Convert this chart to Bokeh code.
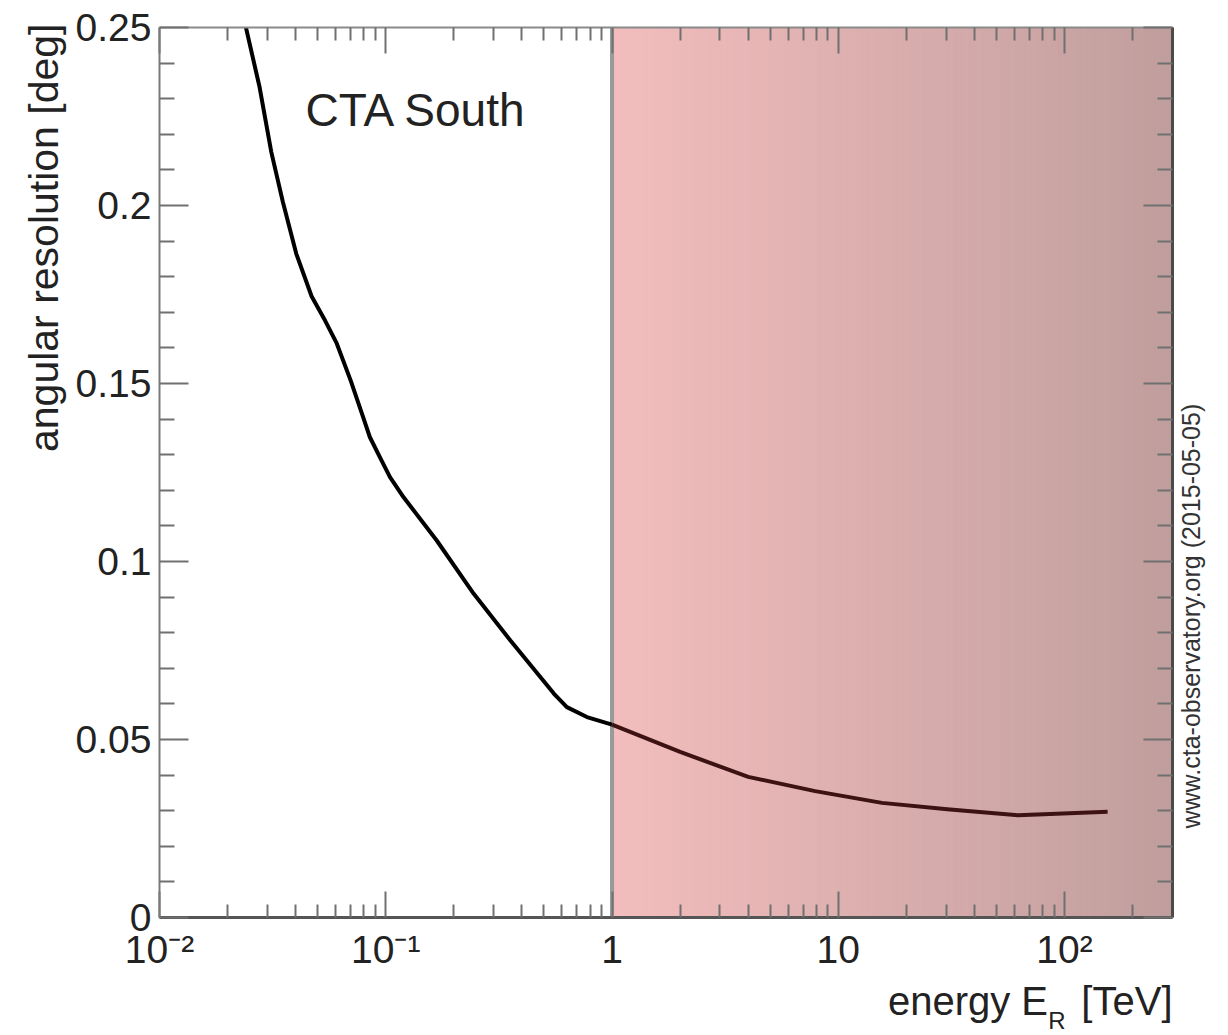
import numpy as np
from bokeh.plotting import figure
from bokeh.models import (FixedTicker, CustomJSTickFormatter, LinearAxis, LogAxis,
                          Label, Title, Range1d)
from bokeh.embed import file_html
from bokeh.resources import INLINE

# ---- data ----
energy_tev = [0.0240, 0.0277, 0.0312, 0.0351, 0.0402, 0.0470, 0.054, 0.0605, 0.070, 0.0795,
              0.0851, 0.095, 0.1044, 0.1197, 0.168, 0.2444, 0.3556, 0.4831, 0.553, 0.6316,
              0.7747, 1.0, 2.0, 4.0, 7.9, 15.6, 30.3, 62.4, 155.0]
ang_res_deg = [0.2505, 0.2332, 0.2150, 0.2010, 0.1865, 0.1745, 0.1676, 0.1615, 0.1508, 0.1405,
               0.1349, 0.1288, 0.1237, 0.1181, 0.1059, 0.0910, 0.0778, 0.0675, 0.0629, 0.0591,
               0.0563, 0.0542, 0.0465, 0.0395, 0.0355, 0.0322, 0.0304, 0.0287, 0.0297]

x_major_ticks = [0.01, 0.1, 1, 10, 100]
x_minor_ticks = [m * d for d in [0.01, 0.1, 1, 10, 100] for m in range(2, 10) if m * d <= 300]
y_major_ticks = [0, 0.05, 0.1, 0.15, 0.2, 0.25]
y_minor_ticks = [i / 100 for i in range(0, 26) if i % 5 != 0]

x_lo, x_hi = 0.01, 300.0
y_lo, y_hi = 0.0, 0.25
shade_lo, shade_hi = 1.0, 300.0
threshold_tev = 1.0
shade_left_rgb = (243, 189, 189)
shade_right_rgb = (192, 158, 157)
watermark = "www.cta-observatory.org (2015-05-05)"
watermark_y = 0.025   # level where the vertical watermark text begins

FONT = "Liberation Sans"
TXT = "#222222"

p = figure(frame_width=1013, frame_height=890, x_axis_type="log",
           x_range=Range1d(x_lo, x_hi), y_range=Range1d(y_lo, y_hi),
           output_backend="svg", toolbar_location=None,
           min_border_left=159, min_border_right=56, min_border_top=27, min_border_bottom=118)
p.grid.visible = False
p.outline_line_color = None
p.background_fill_color = "white"
p.border_fill_color = "white"

# ---- gradient shading of the region above threshold ----
edges = np.logspace(np.log10(shade_lo), np.log10(shade_hi), 161)
fr = (np.log10(edges[:-1]) + np.log10(edges[1:])) / 2
fr = (fr - np.log10(shade_lo)) / (np.log10(shade_hi) - np.log10(shade_lo))
cols = []
for f in fr:
    c = [int(round(a + (b - a) * f)) for a, b in zip(shade_left_rgb, shade_right_rgb)]
    cols.append("#%02x%02x%02x" % tuple(c))
p.quad(left=edges[:-1], right=edges[1:], bottom=y_lo, top=y_hi,
       fill_color=cols, line_color=cols, line_width=1)

# ---- threshold line ----
p.segment(x0=[threshold_tev], y0=[y_lo], x1=[threshold_tev], y1=[y_hi],
          line_color="#9a9a9a", line_width=4)

# ---- curve ----
e = np.array(energy_tev)
r = np.array(ang_res_deg)
lo = e <= threshold_tev
hi = e >= threshold_tev
p.line(e[lo], r[lo], line_color="black", line_width=4, line_join="round")
p.line(e[hi], r[hi], line_color="#3d1212", line_width=4, line_join="round")

# ---- axes ----
x_ticker = FixedTicker(ticks=x_major_ticks, minor_ticks=x_minor_ticks)
y_ticker = FixedTicker(ticks=y_major_ticks, minor_ticks=y_minor_ticks)

x_fmt = CustomJSTickFormatter(code="""
const e = Math.round(Math.log10(tick));
if (e == 0) return "1";
if (e == 1) return "10";
const sup = {"-": "\u207b", "0": "\u2070", "1": "\u00b9", "2": "\u00b2", "3": "\u00b3"};
return "10" + String(e).split("").map(c => sup[c]).join("");
""")
y_fmt = CustomJSTickFormatter(code="""
let s = tick.toFixed(2);
s = s.replace(/0+$/, "").replace(/\\.$/, "");
return s;
""")
empty_fmt = CustomJSTickFormatter(code="return '';")
wm_fmt = CustomJSTickFormatter(args=dict(txt=watermark), code="return txt;")

def style(ax, major_len, minor_len, line_color, line_width):
    ax.major_tick_in = major_len
    ax.major_tick_out = 0
    ax.minor_tick_in = minor_len
    ax.minor_tick_out = 0
    ax.axis_line_color = line_color
    ax.axis_line_width = line_width
    ax.major_tick_line_color = "#707070"
    ax.minor_tick_line_color = "#707070"
    ax.major_tick_line_width = 2
    ax.minor_tick_line_width = 2
    ax.major_label_text_font = FONT
    ax.major_label_text_font_size = "39px"
    ax.major_label_text_color = TXT

xa = p.xaxis[0]
xa.ticker = x_ticker
xa.formatter = x_fmt
style(xa, 26, 13, "#555555", 3)
xa.major_label_standoff = 10

ya = p.yaxis[0]
ya.ticker = y_ticker
ya.formatter = y_fmt
style(ya, 29, 15, "#7a7a7a", 2)
ya.major_label_standoff = 8

top = LogAxis(ticker=x_ticker, formatter=empty_fmt)
style(top, 26, 13, "#8a8a8a", 2)
p.add_layout(top, "above")

right = LinearAxis(ticker=y_ticker, formatter=empty_fmt)
style(right, 29, 15, "#4a4a4a", 3)
right.major_label_standoff = 2
p.add_layout(right, "right")

# watermark carried by an extra, otherwise invisible right axis (one labelled tick)
wm = LinearAxis(ticker=FixedTicker(ticks=[watermark_y], minor_ticks=[]), formatter=wm_fmt,
                major_label_orientation=np.pi / 2, major_label_standoff=18,
                major_label_text_font=FONT, major_label_text_font_size="25px",
                major_label_text_color="#333333",
                axis_line_color=None, major_tick_line_color=None, minor_tick_line_color=None,
                major_tick_in=0, major_tick_out=0, minor_tick_in=0, minor_tick_out=0)
p.add_layout(wm, "right")

# ---- axis titles ----
p.add_layout(Title(text="angular resolution [deg]", align="right", offset=-4, standoff=12,
                   text_font=FONT, text_font_size="41px", text_font_style="normal",
                   text_color=TXT), "left")

p.add_layout(Title(text="energy E\u00a0\u00a0\u00a0[TeV]", align="right", offset=0, standoff=6,
                   text_font=FONT, text_font_size="40px", text_font_style="normal",
                   text_color=TXT), "below")
p.add_layout(Title(text="R", align="right", offset=107, standoff=-38, vertical_align="top",
                   text_font=FONT, text_font_size="24px", text_font_style="normal",
                   text_color=TXT), "below")

# ---- in-plot label ----
p.add_layout(Label(x=146, y=782, x_units="screen", y_units="screen", text="CTA South",
                   text_font=FONT, text_font_size="46px", text_color=TXT))

open("out.html", "w").write(file_html(p, INLINE))
